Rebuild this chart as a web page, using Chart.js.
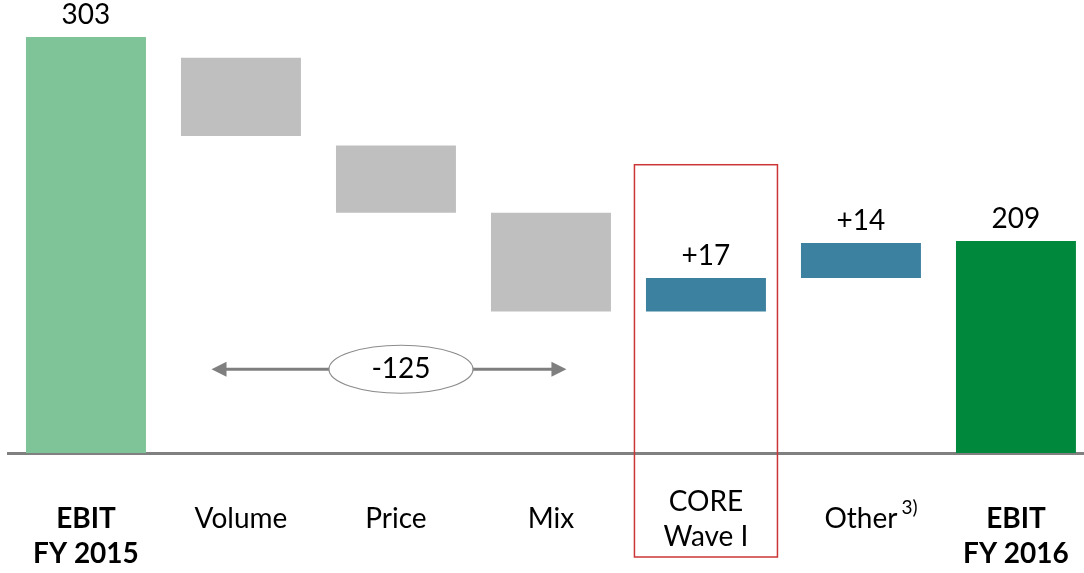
<!DOCTYPE html>
<html>
<head>
<meta charset="utf-8">
<title>EBIT bridge FY 2015 - FY 2016</title>
<script src="https://cdn.jsdelivr.net/npm/chart.js@4.4.1/dist/chart.umd.min.js"></script>
<style>
  html, body { margin: 0; padding: 0; background: #fff; }
  #wrap { width: 1084px; height: 573px; position: relative; }
</style>
</head>
<body>
<div id="wrap"><canvas id="bridge"></canvas></div>
<script>
// tick labels; the leading "" on the totals pushes them down a line (centre-aligned ticks)
const categories = [
  ["", "EBIT", "FY 2015"],
  "Volume",
  "Price",
  "Mix",
  ["CORE", "Wave I"],
  "Other",
  ["", "EBIT", "FY 2016"],
];
const footnotes = ["", "", "", "", "", "3)", ""];
const barBottoms = [0, 231, 175, 103, 103, 127.5, 0];
const barTops = [303, 288, 224, 175, 127.5, 153, 154.5];
const valueLabels = ["303", "", "", "", "+17", "+14", "209"];
const boldTicks = [0, 6];

const bridgeLabel = "-125";
const bridgeFrom = 0.81;
const bridgeTo = 3.1;
const bridgeLevel = 61;
const highlightIndex = 4;
const highlightTop = 210;

const barColors = ["#7fc398", "#bfbfbf", "#bfbfbf", "#bfbfbf", "#3d81a0", "#3d81a0", "#00893d"];
const FONT = "Lato";

const bridgeAnnotations = {
  id: "bridgeAnnotations",
  afterDatasetsDraw(chart) {
    const { ctx, chartArea, scales: { x, y } } = chart;
    const bars = chart.getDatasetMeta(0).data;
    ctx.save();

    ctx.fillStyle = "#000";
    ctx.font = `28px ${FONT}`;
    ctx.textAlign = "center";
    ctx.textBaseline = "middle";
    bars.forEach((bar, i) => {
      if (valueLabels[i]) ctx.fillText(valueLabels[i], bar.x, bar.y - 22);
    });

    // footnote markers next to tick labels
    footnotes.forEach((note, i) => {
      if (!note) return;
      ctx.font = `28px ${FONT}`;
      const w = ctx.measureText(categories[i]).width;
      ctx.font = `19px ${FONT}`;
      ctx.textAlign = "left";
      ctx.fillText(note, x.getPixelForValue(i) + w / 2 + 4, chartArea.bottom + 55);
    });
    ctx.textAlign = "center";
    ctx.font = `28px ${FONT}`;

    // red frame round CORE
    const cx = x.getPixelForValue(highlightIndex);
    const top = y.getPixelForValue(highlightTop);
    ctx.strokeStyle = "#cc3535";
    ctx.lineWidth = 1.5;
    ctx.strokeRect(cx - 71.5, top, 143, chartArea.bottom + 104 - top);

    // double arrow with the ellipse
    const x1 = x.getPixelForValue(bridgeFrom);
    const x2 = x.getPixelForValue(bridgeTo);
    const ly = y.getPixelForValue(bridgeLevel);
    const head = 15;
    ctx.strokeStyle = "#7f7f7f";
    ctx.fillStyle = "#7f7f7f";
    ctx.lineWidth = 3;
    ctx.beginPath();
    ctx.moveTo(x1 + head - 2, ly);
    ctx.lineTo(x2 - head + 2, ly);
    ctx.stroke();
    [[x1, 1], [x2, -1]].forEach(([px, dir]) => {
      ctx.beginPath();
      ctx.moveTo(px, ly);
      ctx.lineTo(px + dir * head, ly - 7.5);
      ctx.lineTo(px + dir * head, ly + 7.5);
      ctx.closePath();
      ctx.fill();
    });

    const ex = (x1 + x2) / 2 + 12;
    ctx.beginPath();
    ctx.ellipse(ex, ly, 72, 24, 0, 0, Math.PI * 2);
    ctx.fillStyle = "#fff";
    ctx.fill();
    ctx.strokeStyle = "#8c8c8c";
    ctx.lineWidth = 1.2;
    ctx.stroke();
    ctx.fillStyle = "#000";
    ctx.fillText(bridgeLabel, ex, ly);

    ctx.restore();
  },
};

new Chart(document.getElementById("bridge"), {
  type: "bar",
  data: {
    datasets: [
      {
        data: categories.map((_, i) => ({ x: i, y: [barBottoms[i], barTops[i]] })),
        backgroundColor: barColors,
        borderWidth: 0,
        barPercentage: 0.774,
        categoryPercentage: 1,
      },
    ],
  },
  options: {
    responsive: true,
    maintainAspectRatio: false,
    animation: false,
    layout: { padding: { left: 8, right: 0, top: 0, bottom: 0 } },
    plugins: { legend: { display: false }, tooltip: { enabled: false } },
    scales: {
      x: {
        type: "linear",
        offset: false,
        min: -0.503,
        max: 6.439,
        afterFit: (scale) => {
          scale.height = 120;
          scale.paddingLeft = 0;
          scale.paddingRight = 0;
        },
        afterBuildTicks: (scale) => {
          scale.ticks = categories.map((_, i) => ({ value: i }));
        },
        grid: { display: false },
        border: { display: true, color: "#808080", width: 3 },
        ticks: {
          autoSkip: false,
          maxRotation: 0,
          padding: 23,
          crossAlign: "center",
          color: "#000",
          font: (ctx) => ({
            family: FONT,
            size: 28,
            weight: boldTicks.includes(ctx.index) ? "bold" : "normal",
            lineHeight: 1.25,
          }),
          callback: (value) => categories[value],
        },
      },
      y: { display: false, min: 0, max: 330 },
    },
  },
  plugins: [bridgeAnnotations],
});
</script>
</body>
</html>
